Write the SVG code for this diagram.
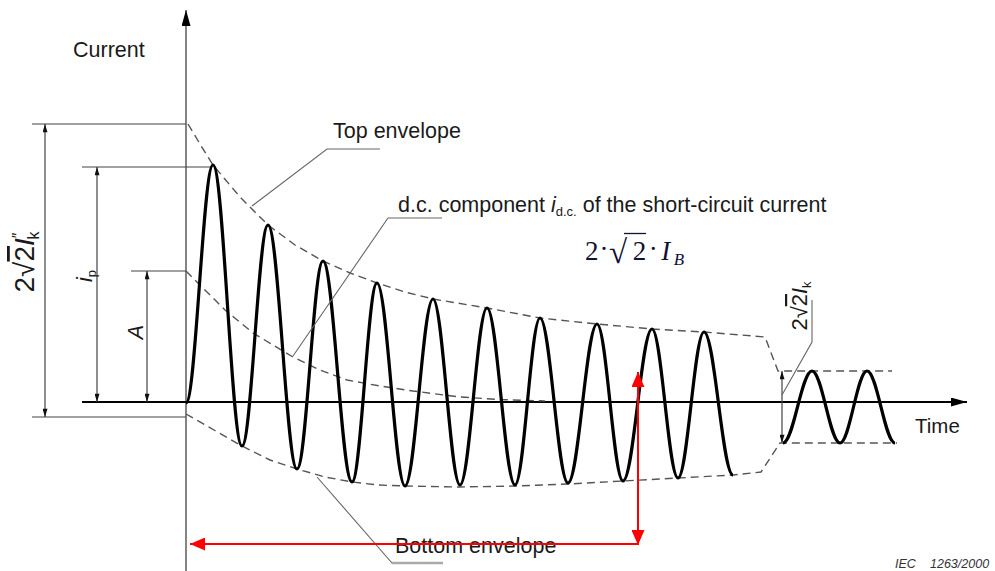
<svg xmlns="http://www.w3.org/2000/svg" width="995" height="571" viewBox="0 0 995 571">
<style>
  .txt{font-family:"Liberation Sans",Arial,sans-serif;font-size:21.5px;fill:#1a1a1a}
  .math{font-family:"Liberation Serif","Times New Roman",serif;fill:#111133}
  .dim{stroke:#444;stroke-width:1.2;fill:none}
  .dash{stroke:#555;stroke-width:1.4;fill:none;stroke-dasharray:8 5}
  .lead{stroke:#666;stroke-width:1.1;fill:none}
  .wave{stroke:#000;stroke-width:3.2;fill:none;stroke-linejoin:round}
  .red{stroke:#ff0000;stroke-width:2;fill:none}
</style>
<defs>
  <marker id="dimA" viewBox="0 0 10 6" refX="10" refY="3" markerWidth="9" markerHeight="5" markerUnits="userSpaceOnUse" orient="auto-start-reverse">
    <path d="M0,0 L10,3 L0,6 z" fill="#111"/>
  </marker>
  <marker id="axA" viewBox="0 0 16 9" refX="16" refY="4.5" markerWidth="16" markerHeight="9" markerUnits="userSpaceOnUse" orient="auto">
    <path d="M0,0 L16,4.5 L0,9 z" fill="#000"/>
  </marker>
  <marker id="redA" viewBox="0 0 15 13" refX="15" refY="6.5" markerWidth="15" markerHeight="13" markerUnits="userSpaceOnUse" orient="auto-start-reverse">
    <path d="M0,0 L15,6.5 L0,13 z" fill="#ff0000"/>
  </marker>
</defs>

<g id="axes">
  <line x1="186" y1="571" x2="186" y2="10" stroke="#333" stroke-width="1.2" marker-end="url(#axA)"/>
  <line x1="82" y1="402" x2="967" y2="402" stroke="#000" stroke-width="2" marker-end="url(#axA)"/>
</g>

<g id="dimension-lines">
  <line class="dim" x1="32" y1="124" x2="186" y2="124"/>
  <line class="dim" x1="82" y1="167" x2="212" y2="167"/>
  <line class="dim" x1="131" y1="271" x2="186" y2="271"/>
  <line class="dim" x1="32" y1="417" x2="186" y2="417"/>
  <line class="dim" x1="45" y1="124" x2="45" y2="417" marker-start="url(#dimA)" marker-end="url(#dimA)"/>
  <line class="dim" x1="97" y1="167" x2="97" y2="402" marker-start="url(#dimA)" marker-end="url(#dimA)"/>
  <line class="dim" x1="147" y1="271" x2="147" y2="402" marker-start="url(#dimA)" marker-end="url(#dimA)"/>
  <line class="dim" x1="782" y1="371" x2="782" y2="443" marker-start="url(#dimA)" marker-end="url(#dimA)"/>
</g>

<g id="envelopes">
  <polyline id="top-envelope" class="dash" points="188,124 200,144 213,165 240,197 268,225 295,245 323,261 350,273 377,283 405,292 433,299 487,308 540,318 597,324 652,329 704,332 765,337 778,371 892,371"/>
  <polyline id="bottom-envelope" class="dash" points="186,414 214,430 242,446 270,460 297,469 325,477 352,482 378,485 405,486 460,487 515,486 568,484 623,481 678,478 733,475 761,472 780,443 897,443"/>
  <polyline id="dc-component" class="dash" points="186,271 200,285 225,310 253,333 293,357 320,370 347,380 380,386 413,391 460,397 500,399.5 545,401"/>
</g>

<g id="waveform">
  <path class="wave" d="M186,403 C195.8,403 203.2,165 213,165 C223.6,165 231.4,446 242,446 C251.5,446 258.5,225 268,225 C278.6,225 286.4,469 297,469 C306.5,469 313.5,261 323,261 C333.6,261 341.4,482 352,482 C361.1,482 367.9,283 377,283 C387.2,283 394.8,486 405,486 C415.2,486 422.8,299 433,299 C442.8,299 450.2,485 460,485 C469.8,485 477.2,308 487,308 C497.2,308 504.8,485 515,485 C524.1,485 530.9,318 540,318 C550.2,318 557.8,483 568,483 C578.6,483 586.4,324 597,324 C606.5,324 613.5,481 623,481 C633.6,481 641.4,329 652,329 C661.5,329 668.5,478 678,478 C687.5,478 694.5,332 704,332 C714.6,332 722.4,475 733,475"/>
  <path class="wave" stroke-width="2.6" d="M783,443 C793.6,443 801.4,371 812,371 C822.2,371 829.8,443 840,443 C849.8,443 857.2,371 867,371 C877.2,371 884.8,443 895,443"/>
</g>

<g id="connectors">
  <polyline class="lead" points="252,206 327,149 380,149"/>
  <polyline class="lead" points="293,356 388,218 442,218"/>
  <polyline class="lead" points="317,477 392,563 443,563"/>
  <line x1="392" y1="563" x2="443" y2="563" stroke="#aaa" stroke-width="2.5"/>
  <polyline class="lead" points="782,395 812,342 812,300"/>
</g>

<g id="labels">
  <text class="txt" x="73" y="57">Current</text>
  <text class="txt" x="915" y="433" style="font-size:20.5px">Time</text>
  <text class="txt" x="333" y="138">Top envelope</text>
  <text class="txt" x="398" y="212">d.c. component <tspan font-style="italic">i</tspan><tspan font-size="13" dy="4">d.c.</tspan><tspan dy="-4"> of the short-circuit current</tspan></text>
  <text class="txt" x="395" y="553">Bottom envelope</text>
  <g id="formula">
    <line x1="624" y1="233.5" x2="646" y2="233.5" stroke="#111133" stroke-width="1.3"/>
    <text class="math" x="585" y="260" font-size="27">2<tspan dx="1" dy="-2">·</tspan><tspan font-size="33" dx="0.5" dy="5">√</tspan><tspan dx="5.5" dy="-3">2</tspan><tspan dx="2.5" dy="-2">·</tspan><tspan font-style="italic" dx="3.5" dy="2">I</tspan><tspan font-style="italic" font-size="17" dx="3.5" dy="5">B</tspan></text>
  </g>
  <g transform="translate(27,262) rotate(-90)">
    <text class="txt" x="0" y="7" text-anchor="middle" style="font-size:28px">2√<tspan text-decoration="overline">2</tspan><tspan font-style="italic">I</tspan><tspan font-size="16" dy="-10">″</tspan><tspan font-size="16" dx="-7" dy="15">k</tspan></text>
  </g>
  <g transform="translate(86,276) rotate(-90)">
    <text class="txt" x="0" y="6" text-anchor="middle"><tspan font-style="italic">i</tspan><tspan font-size="13" dy="4">p</tspan></text>
  </g>
  <g transform="translate(135,332) rotate(-90)">
    <text class="txt" x="0" y="8" text-anchor="middle" font-style="italic">A</text>
  </g>
  <g transform="translate(801,306) rotate(-90)">
    <text class="txt" x="0" y="6" text-anchor="middle" style="font-size:22px">2√<tspan text-decoration="overline">2</tspan><tspan font-style="italic">I</tspan><tspan font-size="13" dy="4">k</tspan></text>
  </g>
  <text x="895" y="568" font-family="Liberation Sans, Arial, sans-serif" font-size="12.5" font-style="italic" fill="#333">IEC</text>
  <text x="930" y="568" font-family="Liberation Sans, Arial, sans-serif" font-size="12.5" font-style="italic" fill="#333">1263/2000</text>
</g>

<g id="red-arrows">
  <line class="red" x1="638" y1="372" x2="638" y2="545" marker-start="url(#redA)" marker-end="url(#redA)"/>
  <line class="red" x1="638" y1="544" x2="190" y2="544" marker-end="url(#redA)"/>
</g>
</svg>
